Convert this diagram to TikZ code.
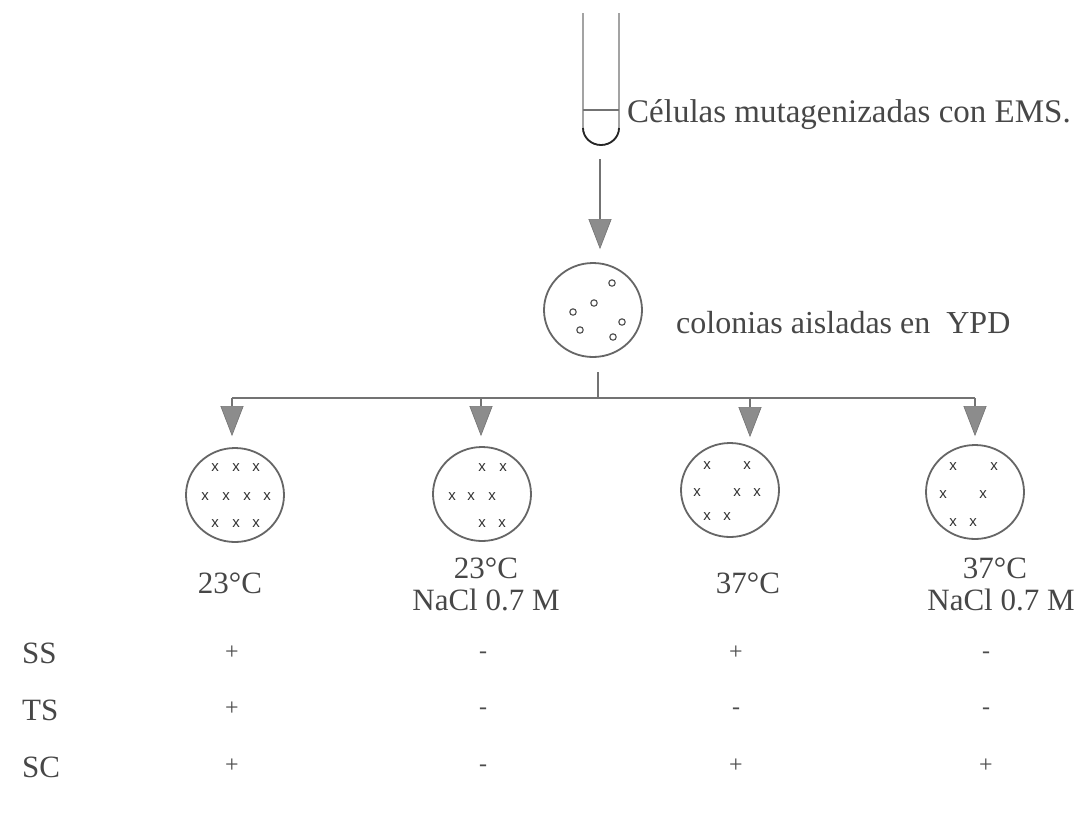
\documentclass[tikz,border=0pt]{standalone}
\usepackage{fontspec}
\setmainfont{Liberation Serif}
\newfontfamily\markfont{Liberation Sans}
\usetikzlibrary{arrows.meta,shapes.geometric}
\begin{document}
\begin{tikzpicture}[x=1pt,y=-1pt,
  ln/.style={draw=black!55,line width=1.3pt},
  plate/.style={ellipse,draw=black!60,line width=1.8pt,minimum width=98pt,minimum height=94pt,inner sep=0pt},
  arr/.style={ln,-{Triangle[width=23pt,length=30pt,fill=black!45,color=black!55,line width=0.6pt]}},
  txt/.style={text=black!72,font=\fontsize{33}{36}\selectfont,inner sep=0pt},
  lbl/.style={text=black!72,font=\fontsize{31}{33}\selectfont,inner sep=0pt,align=center},
  sign/.style={text=black!70,font=\fontsize{24}{26}\selectfont,inner sep=0pt},
  colony/.style={draw=black!70,line width=1.1pt},
  xmark/.style={text=black!80,font=\markfont\fontsize{15}{16}\selectfont,inner sep=0pt}
]
\useasboundingbox[fill=white] (0,0) rectangle (1079,812);

% test tube with liquid level
\draw[ln] (583,13) -- (583,128) arc[start angle=180,end angle=0,x radius=18,y radius=17] -- (619,13);
\draw[draw=black!85,line width=1.8pt] (583,128) arc[start angle=180,end angle=0,x radius=18,y radius=17];
\draw[ln] (583,110) -- (619,110);
\coordinate (tube) at (600,159);
\node[txt,anchor=base west] (cells) at (627,122) {Células mutagenizadas con EMS.};

% plate with isolated colonies
\node[plate] (master) at (593,310) {};
\foreach \cx/\cy in {612/283,594/303,573/312,622/322,580/330,613/337}
  \draw[colony] (\cx,\cy) circle[radius=3.2];
\node[txt,anchor=base west,font=\fontsize{32}{36}\selectfont] (ypd) at (676,333) {colonias aisladas en\ \ YPD};
\draw[arr,shorten >=13pt] (tube) -- (tube |- master.north);

% replica distribution
\coordinate (stem) at (598,372);
\coordinate (hub) at (598,398);
\coordinate (b1) at (232,398);
\coordinate (b2) at (481,398);
\coordinate (b3) at (750,398);
\coordinate (b4) at (975,398);
\draw[ln] (stem) -- (hub);
\draw[ln] (b1) -- (b4);

% replica plates
\node[plate] (p1) at (235,495) {};
\node[plate] (p2) at (482,494) {};
\node[plate] (p3) at (730,490) {};
\node[plate] (p4) at (975,492) {};
\draw[arr,shorten >=11pt] (b1) -- (b1 |- p1.north);
\draw[arr,shorten >=10pt] (b2) -- (b2 |- p2.north);
\draw[arr,shorten >=5pt] (b3) -- (b3 |- p3.north);
\draw[arr,shorten >=8pt] (b4) -- (b4 |- p4.north);

\foreach \px/\py in {215/468,236/468,256/468,205/497,226/497,247/497,267/497,215/524,236/524,256/524,
                      482/468,503/468,452/497,471/497,492/497,482/524,502/524,
                      707/466,747/466,697/493,737/493,757/493,707/517,727/517,
                      953/467,994/467,943/495,983/495,953/523,973/523}
  \node[xmark] at (\px,\py) {x};

% growth conditions
\node[lbl,anchor=base] (c1) at (230,593) {23°C};
\node[lbl,anchor=base] (c2) at (486,578) {23°C};
\node[lbl,anchor=base] (c2b) at (486,610) {NaCl 0.7 M};
\node[lbl,anchor=base] (c3) at (748,593) {37°C};
\node[lbl,anchor=base] (c4) at (995,578) {37°C};
\node[lbl,anchor=base] (c4b) at (1001,610) {NaCl 0.7 M};

% phenotype table
\node[lbl,anchor=base west] (ss) at (22,663) {SS};
\node[lbl,anchor=base west] (ts) at (22,720) {TS};
\node[lbl,anchor=base west] (sc) at (22,777) {SC};
\node[sign] at (232,653) {+};
\node[sign] at (483,655) {-};
\node[sign] at (736,653) {+};
\node[sign] at (986,655) {-};
\node[sign] at (232,709) {+};
\node[sign] at (483,711) {-};
\node[sign] at (736,711) {-};
\node[sign] at (986,711) {-};
\node[sign] at (232,766) {+};
\node[sign] at (483,768) {-};
\node[sign] at (736,766) {+};
\node[sign] at (986,766) {+};
\end{tikzpicture}
\end{document}
